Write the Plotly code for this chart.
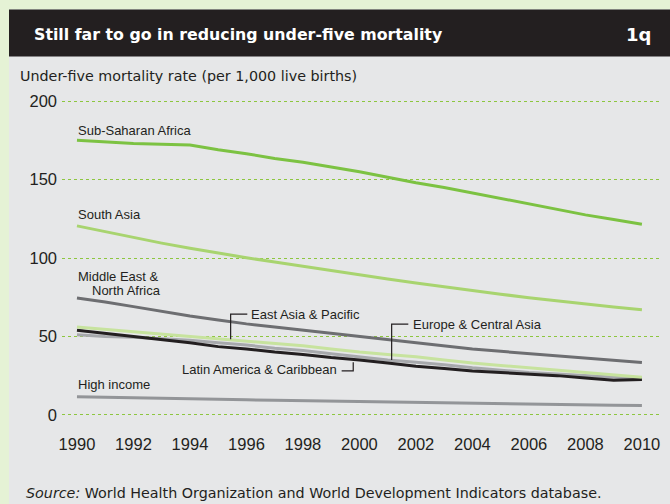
import plotly.graph_objects as go

years = list(range(1990, 2011))

sub_saharan = [175, 174, 173, 172.5, 172, 169, 166.5, 163.5, 161, 158, 155,
               151.5, 148, 145, 141.5, 138, 134.5, 131, 127.5, 124.5, 121.5]
south_asia = [120.5, 116.7, 113, 109.5, 106.2, 103.1, 100.2, 97.4, 94.6, 91.9, 89.2,
              86.6, 84.1, 81.6, 79.2, 76.9, 74.7, 72.6, 70.6, 68.7, 67]
mena = [74.5, 72, 69, 66, 63, 60.5, 58, 56, 54, 52, 50,
        48, 46, 44, 42, 40.5, 39, 37.5, 36, 34.5, 33.3]
east_asia = [56, 54.5, 53, 51.5, 50, 48.5, 47, 45.5, 44, 42, 40,
             38.5, 37, 35, 33, 31.5, 30, 28.5, 27, 25.5, 24]
europe_ca = [51, 50, 49.5, 48.5, 47.5, 46, 44.5, 42.5, 41, 39, 37,
             35, 33.5, 32, 30, 28.5, 27, 26, 25, 24, 23]
latin_am = [54, 52, 50, 48, 46, 43.5, 42, 40, 38.5, 36.5, 35,
            33, 31, 29.5, 28, 27, 26, 25, 23.5, 22, 22.5]
high_income = [11.6, 11.2, 10.8, 10.5, 10.2, 9.9, 9.6, 9.3, 9.0, 8.7, 8.4,
               8.1, 7.8, 7.5, 7.3, 7.0, 6.8, 6.6, 6.3, 6.1, 5.9]

y_ticks = [0, 50, 100, 150, 200]
x_ticks = list(range(1990, 2011, 2))

TXT = "#231f20"
FONT = "Liberation Sans"
WIDE = "DejaVu Sans"

series = [
    ("High income", high_income, "#939598"),
    ("Middle East & North Africa", mena, "#6d6e71"),
    ("Europe & Central Asia", europe_ca, "#a7a9ac"),
    ("Latin America & Caribbean", latin_am, "#231f20"),
    ("East Asia & Pacific", east_asia, "#c7e39e"),
    ("South Asia", south_asia, "#a8d46f"),
    ("Sub-Saharan Africa", sub_saharan, "#7cc242"),
]

fig = go.Figure()
for name, vals, col in series:
    fig.add_trace(go.Scatter(x=years, y=vals, mode="lines", name=name,
                             line=dict(color=col, width=3), hoverinfo="skip"))

# plot area geometry (pixels) for paper-referenced decorations
L, R, T, B = 62, 10, 93, 81
W, H = 670, 504
pw, ph = W - L - R, H - T - B


def px(x):
    return (x - L) / pw


def py(y):
    return (H - B - y) / ph


shapes = [
    # green outer frame
    dict(type="rect", xref="paper", yref="paper", x0=px(0), x1=px(W), y0=py(H), y1=py(0),
         fillcolor="#e5f2d5", line=dict(width=0), layer="below"),
    dict(type="rect", xref="paper", yref="paper", x0=px(9), x1=px(W + 5), y0=py(H + 5), y1=py(9.5),
         fillcolor="#e6e7e8", line=dict(width=0), layer="below"),
    # dark header bar
    dict(type="rect", xref="paper", yref="paper", x0=px(9), x1=px(W + 5), y0=py(56.5), y1=py(9.5),
         fillcolor="#231f20", line=dict(width=0), layer="above"),
    # leader lines
    dict(type="path", xref="x", yref="y", path="M 1995.44 48.2 L 1995.44 64.2 L 1996.03 64.2",
         line=dict(color=TXT, width=1.2)),
    dict(type="path", xref="x", yref="y", path="M 2001.14 35.0 L 2001.14 57.8 L 2001.73 57.8",
         line=dict(color=TXT, width=1.2)),
    dict(type="path", xref="x", yref="y", path="M 1999.37 28.0 L 1999.78 28.0 L 1999.78 33.5",
         line=dict(color=TXT, width=1.2)),
]

lab = dict(family=FONT, size=13, color=TXT)


def label(text, x, y, anchor="left"):
    return dict(text=text, x=x, y=y, xanchor=anchor, yanchor="middle",
                showarrow=False, font=lab)


annotations = [
    dict(text="<b>Still far to go in reducing under-five mortality</b>", xref="paper", yref="paper",
         x=px(32), y=py(35), xanchor="left", yanchor="middle", showarrow=False,
         font=dict(family=WIDE, size=15.8, color="white")),
    dict(text="<b>1q</b>", xref="paper", yref="paper",
         x=px(653), y=py(35), xanchor="right", yanchor="middle", showarrow=False,
         font=dict(family=WIDE, size=18, color="white")),
    dict(text="Under-five mortality rate (per 1,000 live births)", xref="paper", yref="paper",
         x=px(18), y=py(76), xanchor="left", yanchor="middle", showarrow=False,
         font=dict(family=WIDE, size=14.3, color=TXT)),
    dict(text="<i>Source:</i> World Health Organization and World Development Indicators database.",
         xref="paper", yref="paper", x=px(24), y=py(493), xanchor="left", yanchor="middle",
         showarrow=False, font=dict(family=WIDE, size=14.3, color=TXT)),
    label("Sub-Saharan Africa", 1989.95, 181.1),
    label("South Asia", 1989.95, 127.5),
    label("Middle East &", 1989.95, 88.1),
    label("North Africa", 1990.45, 79.0),
    label("East Asia & Pacific", 1996.1, 64.2),
    label("Europe & Central Asia", 2001.83, 57.8),
    label("Latin America & Caribbean", 1999.27, 29, anchor="right"),
    label("High income", 1989.95, 19.1),
]

fig.update_layout(
    width=W, height=H,
    margin=dict(l=L, r=R, t=T, b=B, pad=0),
    paper_bgcolor="#e6e7e8", plot_bgcolor="#e6e7e8",
    showlegend=False,
    shapes=shapes, annotations=annotations,
    xaxis=dict(range=[1989.47, 2010.64], tickvals=x_ticks, ticktext=[str(v) for v in x_ticks],
               showgrid=False, zeroline=False, showline=False, ticks="",
               ticklabelstandoff=9, tickfont=dict(family=FONT, size=16.5, color=TXT)),
    yaxis=dict(range=[-5.2, 205.2], tickvals=y_ticks, ticktext=[str(v) for v in y_ticks],
               showgrid=True, gridcolor="#8dc63f", griddash="dot", gridwidth=1,
               zeroline=False, showline=False, ticks="", ticklabelstandoff=4,
               tickfont=dict(family=FONT, size=16.5, color=TXT)),
)

fig.write_html("out.html", config={"displayModeBar": False},
               post_script="document.body.style.margin='0';document.body.style.overflow='hidden';")
